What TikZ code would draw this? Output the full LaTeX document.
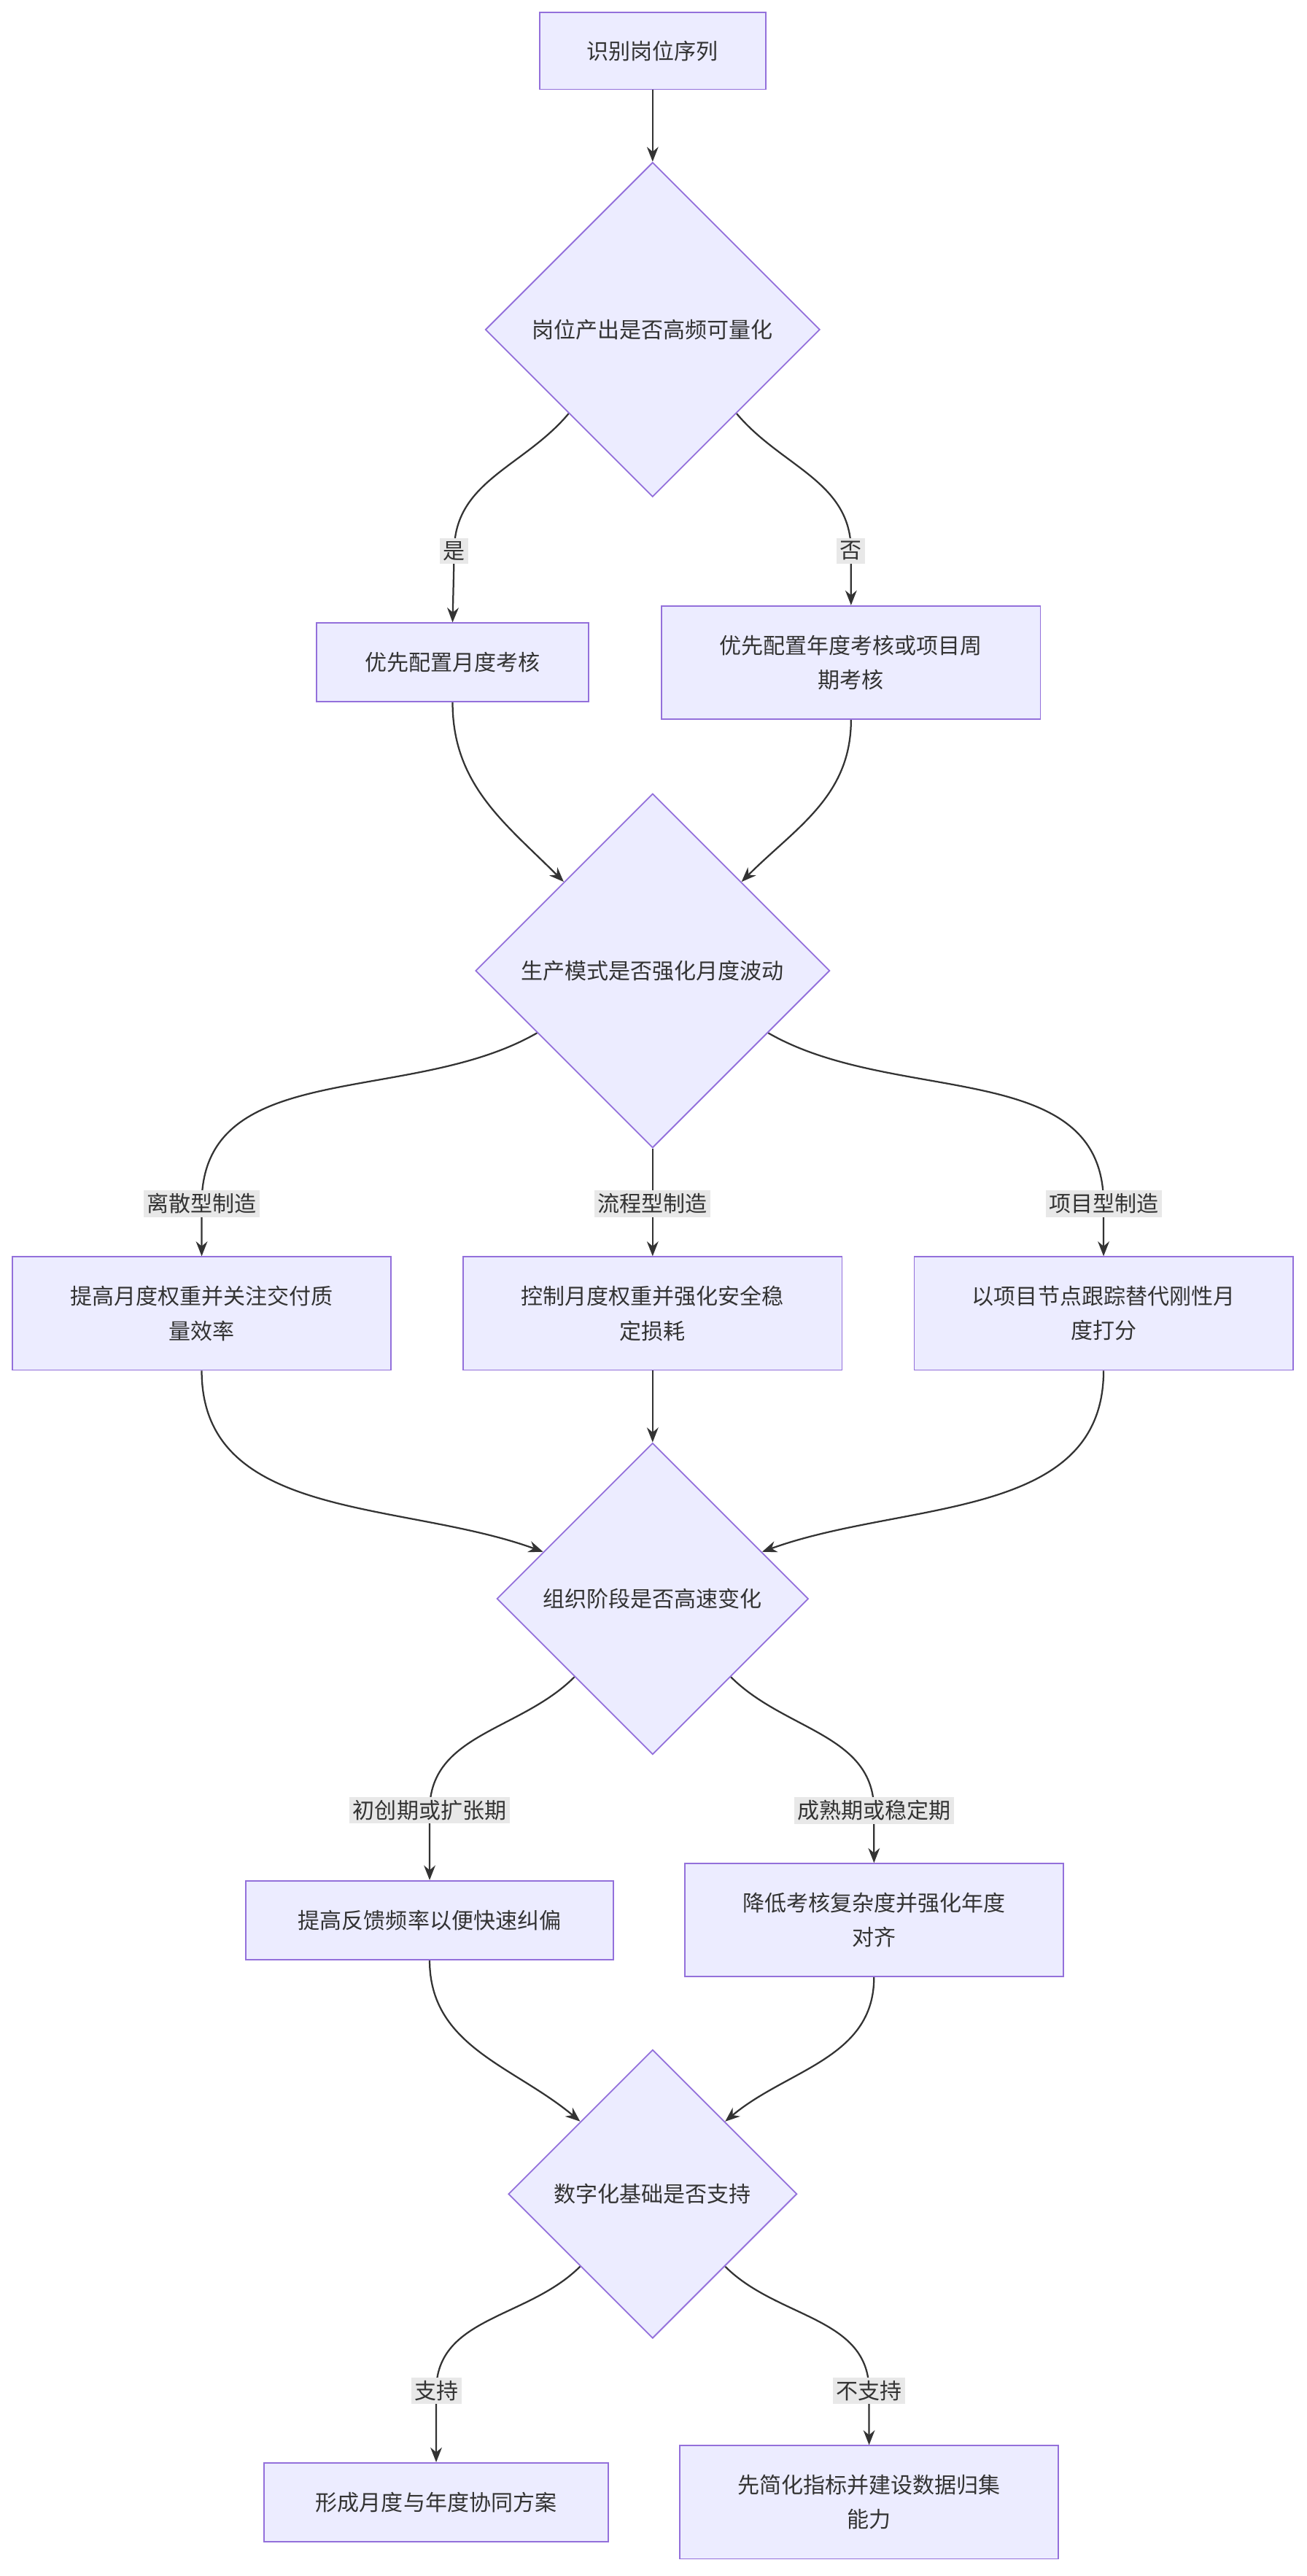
\documentclass[tikz,border=0pt]{standalone}
\usepackage{fontspec}
\setmainfont{Noto Sans CJK SC}
\usetikzlibrary{shapes.geometric,backgrounds,arrows.meta,calc}
\definecolor{nfill}{HTML}{ECECFF}
\definecolor{nline}{HTML}{9370DB}
\definecolor{txt}{HTML}{333333}
\definecolor{lblbg}{HTML}{E8E8E8}
\tikzset{
 box/.style={draw=nline,fill=nfill,line width=0.4mm,text=txt,align=center,inner sep=0,font=\fontsize{19}{30}\selectfont},
 dia/.style={draw=nline,fill=nfill,line width=0.4mm,text=txt,diamond,aspect=1,inner sep=0,align=center,font=\fontsize{19}{30}\selectfont},
 lbl/.style={fill=lblbg,text=txt,inner sep=1mm,font=\fontsize{19}{24}\selectfont},
 arr/.style={draw=txt,line width=0.5mm,-{Stealth[length=4.5mm,width=3.5mm]}},
 ln/.style={draw=txt,line width=0.5mm}
}
\begin{document}
\begin{tikzpicture}[x=0.5mm,y=-0.5mm]
\useasboundingbox (0,0) rectangle (797,1571);
\node[box,minimum width=69mm,minimum height=23.5mm] (n1) at (398,31) {识别岗位序列};
\node[dia,minimum size=102mm] (d1) at (398,201) {岗位产出是否高频可量化};
\node[box,minimum width=83mm,minimum height=24mm] (a) at (276,404) {优先配置月度考核};
\node[box,minimum width=115.5mm,minimum height=34.5mm] (b) at (519,404) {优先配置年度考核或项目周\\期考核};
\node[dia,minimum size=108mm] (d2) at (398,592) {生产模式是否强化月度波动};
\node[box,minimum width=115.5mm,minimum height=34.5mm] (c1) at (123,801) {提高月度权重并关注交付质\\量效率};
\node[box,minimum width=115.5mm,minimum height=34.5mm] (c2) at (398,801) {控制月度权重并强化安全稳\\定损耗};
\node[box,minimum width=115.5mm,minimum height=34.5mm] (c3) at (673,801) {以项目节点跟踪替代刚性月\\度打分};
\node[dia,minimum size=95mm] (d3) at (398,975) {组织阶段是否高速变化};
\node[box,minimum width=112mm,minimum height=24mm] (e1) at (262,1171) {提高反馈频率以便快速纠偏};
\node[box,minimum width=115.5mm,minimum height=34.5mm] (e2) at (533,1171) {降低考核复杂度并强化年度\\对齐};
\node[dia,minimum size=88mm] (d4) at (398,1338) {数字化基础是否支持};
\node[box,minimum width=105mm,minimum height=24mm] (f1) at (266,1526) {形成月度与年度协同方案};
\node[box,minimum width=115.5mm,minimum height=34.5mm] (f2) at (530,1526) {先简化指标并建设数据归集\\能力};
\node[lbl] (l1) at (277,336) {是};
\node[lbl] (l2) at (519,336) {否};
\node[lbl] (l3) at (123,734) {离散型制造};
\node[lbl] (l4) at (398,734) {流程型制造};
\node[lbl] (l5) at (673,734) {项目型制造};
\node[lbl] (l6) at (262,1104) {初创期或扩张期};
\node[lbl] (l7) at (533,1104) {成熟期或稳定期};
\node[lbl] (l8) at (266,1458) {支持};
\node[lbl] (l9) at (530,1458) {不支持};
\begin{scope}[on background layer]
\draw[arr] (n1.south) -- (d1.north);
\draw[arr] (d1.south west) to[out=-130,in=90] (l1.center) -- (a.north);
\draw[arr] (d1.south east) to[out=-50,in=90] (l2.center) -- (b.north);
\draw[arr] (a.south) to[out=-90,in=135] (d2.north west);
\draw[arr] (b.south) to[out=-90,in=45] (d2.north east);
\draw[arr] ($(d2.west)!0.35!(d2.south)$) to[out=-150,in=90] (l3.center) -- (c1.north);
\draw[arr] (d2.south) -- (c2.north);
\draw[arr] ($(d2.east)!0.35!(d2.south)$) to[out=-30,in=90] (l5.center) -- (c3.north);
\draw[arr] (c1.south) to[out=-90,in=160] ($(d3.west)!0.3!(d3.north)$);
\draw[arr] (c2.south) -- (d3.north);
\draw[arr] (c3.south) to[out=-90,in=20] ($(d3.east)!0.3!(d3.north)$);
\draw[arr] (d3.south west) to[out=-135,in=90] (l6.center) -- (e1.north);
\draw[arr] (d3.south east) to[out=-45,in=90] (l7.center) -- (e2.north);
\draw[arr] (e1.south) to[out=-90,in=140] (d4.north west);
\draw[arr] (e2.south) to[out=-90,in=40] (d4.north east);
\draw[arr] (d4.south west) to[out=-135,in=90] (l8.center) -- (f1.north);
\draw[arr] (d4.south east) to[out=-45,in=90] (l9.center) -- (f2.north);
\end{scope}
\end{tikzpicture}
\end{document}
